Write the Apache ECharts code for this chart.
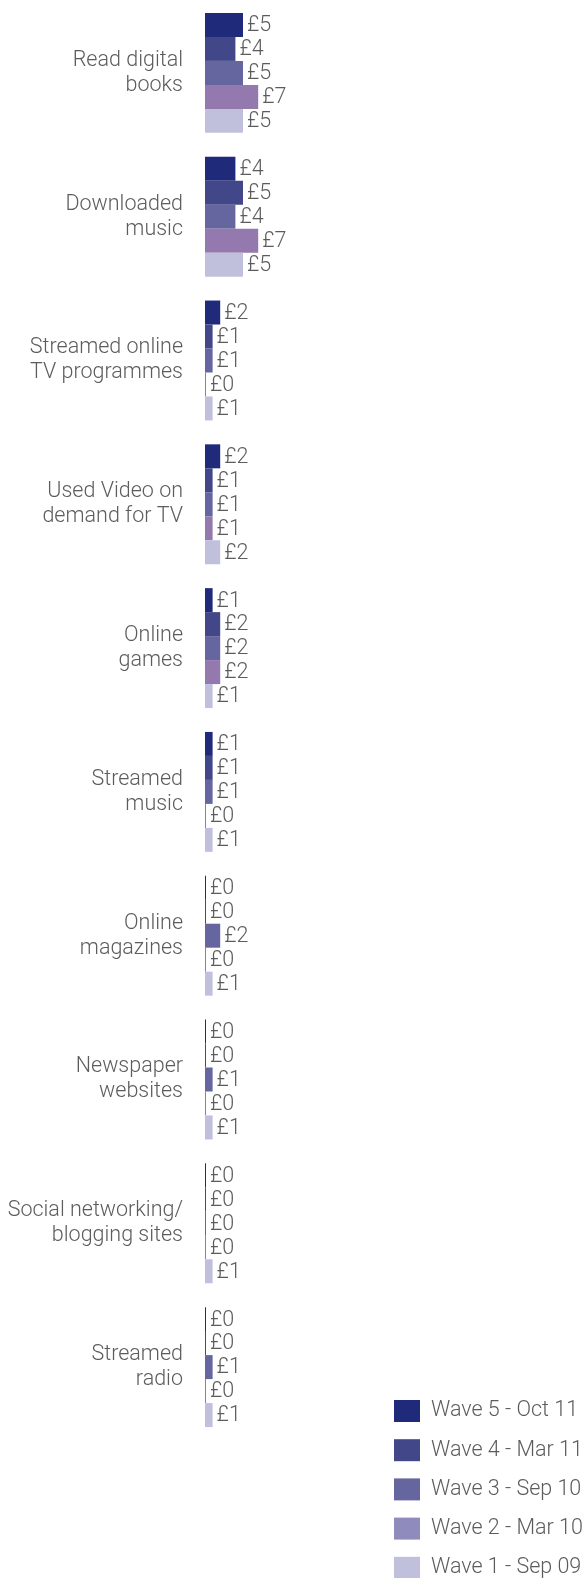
<!DOCTYPE html>
<html>
<head>
<meta charset="utf-8">
<style>
  html, body { margin: 0; padding: 0; background: #ffffff; }
  #chart { width: 583px; height: 1578px; }
</style>
<script src="https://cdn.jsdelivr.net/npm/echarts@6/dist/echarts.min.js"></script>
</head>
<body>
<div id="chart"></div>
<script>
// Activities (top to bottom)
const categories = [
  'Read digital\nbooks',
  'Downloaded\nmusic',
  'Streamed online\nTV programmes',
  'Used Video on\ndemand for TV',
  'Online\ngames',
  'Streamed\nmusic',
  'Online\nmagazines',
  'Newspaper\nwebsites',
  'Social networking/\nblogging sites',
  'Streamed\nradio'
];

// Average spend (£) per wave
const wave5 = [5, 4, 2, 2, 1, 1, 0, 0, 0, 0];
const wave4 = [4, 5, 1, 1, 2, 1, 0, 0, 0, 0];
const wave3 = [5, 4, 1, 1, 2, 1, 2, 1, 0, 1];
const wave2 = [7, 7, 0, 1, 2, 0, 0, 0, 0, 0];
const wave1 = [5, 5, 1, 2, 1, 1, 1, 1, 1, 1];

const waveNames = [
  'Wave 5 - Oct 11',
  'Wave 4 - Mar 11',
  'Wave 3 - Sep 10',
  'Wave 2 - Mar 10',
  'Wave 1 - Sep 09'
];
const waveValues = [wave5, wave4, wave3, wave2, wave1];
const barColors = ['#1f2a7a', '#42478a', '#65659f', '#9479ae', '#c0c0dc'];
const legendColors = ['#1f2a7a', '#42478a', '#65659f', '#8f8cbd', '#c0c0dc'];

const textColor = '#5c5c5c';
const fontFamily = 'Roboto, "Liberation Sans", Arial, sans-serif';
const fontSize = 21.5;

const chart = echarts.init(document.getElementById('chart'), null, { renderer: 'canvas' });

chart.setOption({
  animation: false,
  backgroundColor: '#ffffff',
  textStyle: { fontFamily: fontFamily, color: textColor },
  grid: { left: 205, top: 1, width: 304, bottom: 139, containLabel: false },
  xAxis: {
    type: 'value',
    min: 0,
    max: 40,
    show: false
  },
  yAxis: {
    type: 'category',
    data: categories,
    inverse: true,
    axisLine: { show: false },
    axisTick: { show: false },
    splitLine: { show: false },
    axisLabel: {
      margin: 22,
      fontSize: fontSize,
      lineHeight: 25,
      fontWeight: 300,
      color: textColor,
      fontFamily: fontFamily,
      align: 'right'
    }
  },
  legend: {
    orient: 'vertical',
    left: 394,
    top: 1400,
    height: 200,
    padding: 0,
    itemWidth: 26,
    itemHeight: 22,
    itemGap: 17.2,
    icon: 'rect',
    textStyle: { fontSize: fontSize, lineHeight: 22, color: textColor, fontWeight: 300, fontFamily: fontFamily, padding: [0, 0, 0, 6] },
    data: waveNames.map((n, i) => ({ name: n, itemStyle: { color: legendColors[i] } }))
  },
  series: waveNames.map((name, i) => ({
    name: name,
    type: 'bar',
    data: waveValues[i],
    barGap: '0%',
    barCategoryGap: '16.6%',
    barMinHeight: 1,
    itemStyle: { color: barColors[i] },
    label: {
      show: true,
      position: 'right',
      distance: 4,
      offset: [0, 1],
      fontSize: fontSize,
      fontWeight: 300,
      color: textColor,
      fontFamily: fontFamily,
      formatter: p => '£' + p.value
    }
  }))
});
</script>
</body>
</html>
